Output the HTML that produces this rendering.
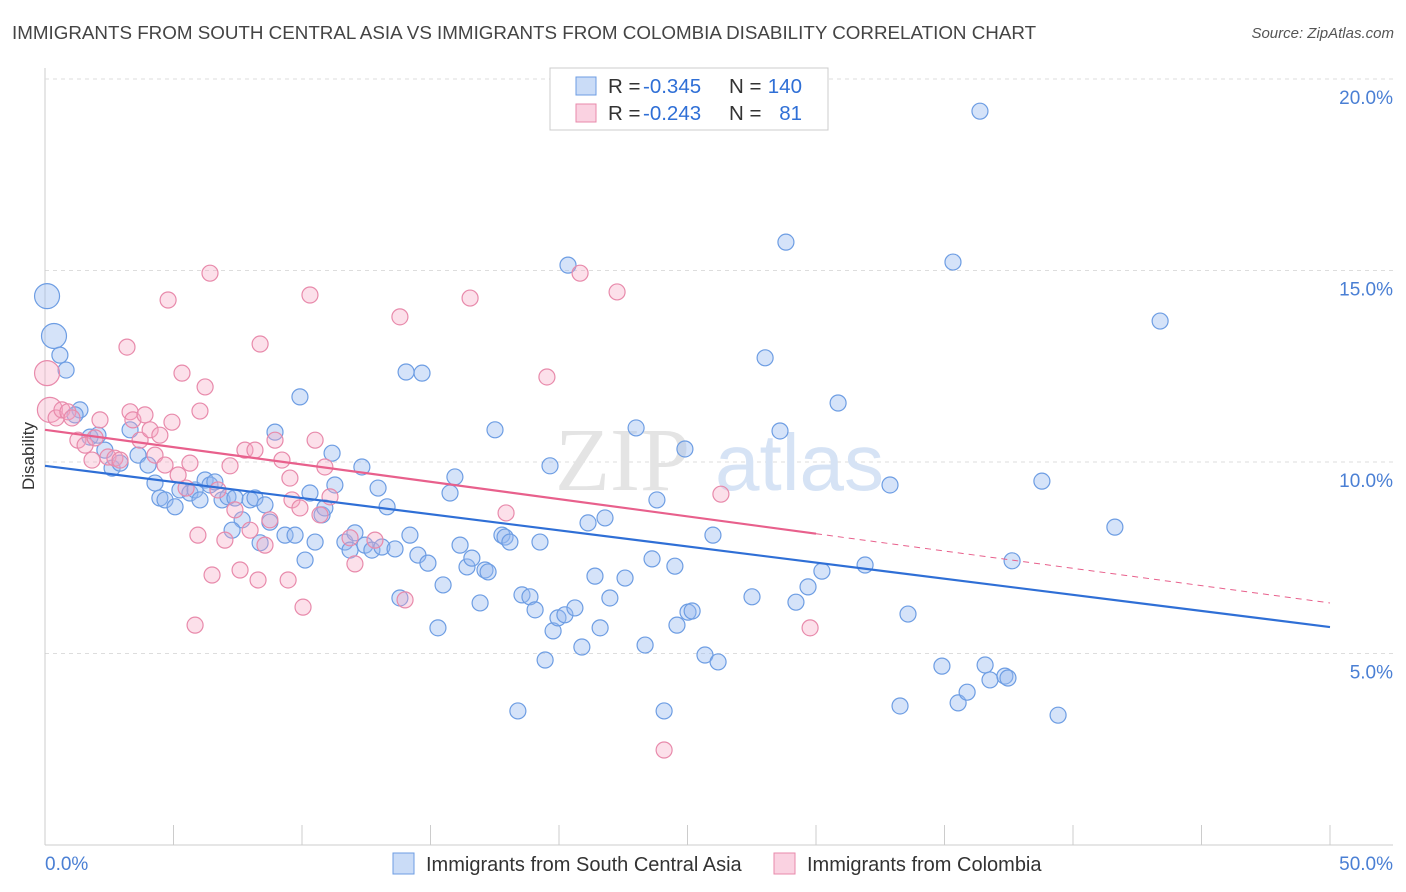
<!DOCTYPE html>
<html><head><meta charset="utf-8"><style>
body{margin:0;background:#fff;font-family:"Liberation Sans",sans-serif;}
#wrap{position:relative;width:1406px;height:892px;overflow:hidden;}
.t{position:absolute;white-space:nowrap;}
</style></head><body>
<div id="wrap">
<div class="t" style="left:12px;top:22px;font-size:18.8px;color:#444;">IMMIGRANTS FROM SOUTH CENTRAL ASIA VS IMMIGRANTS FROM COLOMBIA DISABILITY CORRELATION CHART</div>
<div class="t" style="right:12px;top:25px;font-size:15px;color:#555;font-style:italic;">Source: ZipAtlas.com</div>
<svg id="chart" width="1406" height="892" style="position:absolute;left:0;top:0"></svg>
</div>
<script>
const xTicks=[0,5,10,15,20,25,30,35,40,45,50];
const yTicks=[5,10,15,20];
const blueX=[0.08,0.35,0.58,0.82,1.36,1.17,1.75,2.06,2.33,2.61,2.92,3.31,3.62,4.01,4.28,4.47,4.67,5.06,5.25,5.64,5.84,6.03,6.23,6.42,6.61,6.89,7.12,7.39,7.67,7.28,7.98,8.17,8.56,8.37,8.75,8.95,9.34,9.73,9.92,10.12,10.31,10.51,10.78,10.89,11.17,11.28,11.67,11.87,12.06,12.33,12.45,12.72,12.96,13.11,13.31,13.62,13.81,14.05,14.20,14.51,14.67,14.90,15.29,15.49,15.76,15.95,16.15,16.42,16.61,16.93,17.12,17.24,17.51,17.78,17.90,18.09,18.40,18.56,18.87,19.07,19.26,19.46,19.65,19.77,19.96,20.23,20.35,20.62,20.89,21.13,21.40,21.60,21.79,21.98,22.57,23.00,23.35,23.62,23.81,24.09,24.51,24.59,24.90,25.02,25.18,25.68,25.99,26.19,27.51,28.02,28.60,28.83,29.22,29.69,30.23,30.86,31.91,32.88,33.27,33.58,34.90,35.33,35.53,35.88,36.38,36.58,36.77,37.35,37.47,37.63,38.79,39.42,41.63,43.39];
const blueY=[14.33,13.29,12.79,12.40,11.36,11.23,10.65,10.70,10.31,9.84,9.97,10.84,10.18,9.92,9.45,9.06,9.01,8.83,9.27,9.19,9.27,9.01,9.53,9.40,9.48,9.01,9.09,9.06,8.49,8.22,9.01,9.06,8.88,7.89,8.43,10.78,8.09,8.09,11.70,7.44,9.19,7.91,8.62,8.80,10.23,9.40,7.91,7.70,8.15,9.87,7.83,7.70,9.32,7.78,8.83,7.73,6.45,12.35,8.09,7.57,12.32,7.36,5.67,6.79,9.19,9.61,7.83,7.26,7.49,6.32,7.18,7.13,10.84,8.09,8.04,7.91,3.50,6.53,6.48,6.14,7.91,4.83,9.90,5.59,5.93,6.01,15.14,6.19,5.17,8.41,7.02,5.67,8.54,6.45,6.97,10.89,5.22,7.47,9.01,3.50,7.28,5.74,10.34,6.08,6.11,4.96,8.09,4.78,6.48,12.72,10.81,15.74,6.34,6.74,7.15,11.54,7.31,9.40,3.63,6.03,4.67,15.22,3.71,3.99,19.16,4.70,4.31,4.41,4.36,7.42,9.50,3.39,8.30,13.68];
const pinkX=[0.08,0.19,0.43,0.66,0.89,1.05,1.28,1.56,1.83,1.95,2.14,2.45,2.72,2.92,3.19,3.31,3.42,3.70,3.89,4.09,4.28,4.47,4.67,4.79,4.94,5.18,5.33,5.49,5.64,5.84,5.95,6.03,6.23,6.42,6.50,6.73,7.00,7.20,7.39,7.59,7.78,7.98,8.17,8.29,8.37,8.56,8.75,8.95,9.22,9.46,9.53,9.61,9.92,10.04,10.31,10.51,10.70,10.89,11.09,11.87,12.06,12.84,13.81,14.01,16.54,17.94,19.53,20.82,22.26,24.09,26.30,29.77];
const pinkY=[12.32,11.36,11.15,11.36,11.31,11.15,10.57,10.44,10.05,10.63,11.10,10.13,10.10,10.05,13.00,11.31,11.10,10.57,11.23,10.84,10.18,10.70,9.92,14.23,11.04,9.66,12.32,9.32,9.97,5.74,8.09,11.33,11.96,14.93,7.05,9.27,7.96,9.90,8.75,7.18,10.31,8.22,10.31,6.92,13.08,7.83,8.49,10.57,10.05,6.92,9.58,9.01,8.80,6.21,14.36,10.57,8.62,9.87,9.09,8.02,7.34,7.96,13.79,6.40,14.28,8.67,12.22,14.93,14.44,2.48,9.16,5.67];
const blueTrend=[9.9,5.69];
const pinkTrend=[10.84,6.32];
const pinkSolidEnd=30;

const svg=document.getElementById('chart');
const NS='http://www.w3.org/2000/svg';
const X0=45,X1=1330,Y0=845,PXY=38.3;
const sx=v=>X0+(X1-X0)*v/50;
const sy=v=>Y0-v*PXY;
function mk(tag,attrs,parent){const e=document.createElementNS(NS,tag);for(const k in attrs)e.setAttribute(k,attrs[k]);(parent||svg).appendChild(e);return e;}

yTicks.forEach(v=>{
  const g=mk('line',{x1:X0,x2:1393,y1:sy(v),y2:sy(v),stroke:'#ddd','stroke-dasharray':'4,4'});
  
  
  const t=mk('text',{x:1393,y:sy(v)+25,'text-anchor':'end','font-size':19,fill:'#4a7fd4','font-family':'Liberation Sans'});
  t.textContent=v.toFixed(1)+'%';
  
  
});
const ya=mk('line',{x1:X0,x2:X0,y1:68,y2:Y0,stroke:'#ccc'});


const xa=mk('line',{x1:X0,x2:1393,y1:Y0,y2:Y0,stroke:'#ccc'});


xTicks.forEach(v=>{
  const tk=mk('line',{x1:sx(v),x2:sx(v),y1:825,y2:Y0,stroke:'#ccc'});
  
  
});
[[0,'start',45],[50,'end',1393]].forEach(([v,a,x])=>{
  const t=mk('text',{x:x,y:870,'text-anchor':a,'font-size':19,fill:'#4a7fd4','font-family':'Liberation Sans'});
  t.textContent=v.toFixed(1)+'%';
  
  
});
const yl=mk('text',{x:34,y:456,'text-anchor':'middle','font-size':17,fill:'#333',transform:'rotate(-90 34 456)','font-family':'Liberation Sans'});
yl.textContent='Disability';


const wm=mk('text',{x:555,y:490,'font-size':90,fill:'#e4e4e4','font-family':'Liberation Serif'});
wm.textContent='ZIP';


const wm2=mk('text',{x:715,y:490,'font-size':80,fill:'#d6e3f5','font-family':'Liberation Sans'});
wm2.textContent='atlas';



function pts(xs,ys,fill,stroke,name){
  xs.forEach((x,i)=>{
    const big=(i<2&&x<0.5);
    const c=mk('circle',{cx:sx(x),cy:sy(ys[i]),r:big?12.5:8,fill:fill,stroke:stroke,'stroke-width':1.2});
    
    
  });
}
pts(blueX,blueY,'rgba(150,185,240,0.4)','#6d9de3','blue-point');
pts(pinkX,pinkY,'rgba(245,165,195,0.35)','#e88aab','pink-point');

const bl=mk('line',{x1:sx(0),y1:sy(blueTrend[0]),x2:sx(50),y2:sy(blueTrend[1]),stroke:'#2f6fd6','stroke-width':2.2});


const pAt=v=>pinkTrend[0]+(pinkTrend[1]-pinkTrend[0])*v/50;
const pl=mk('line',{x1:sx(0),y1:sy(pAt(0)),x2:sx(pinkSolidEnd),y2:sy(pAt(pinkSolidEnd)),stroke:'#e8608c','stroke-width':2.2});


const pd=mk('line',{x1:sx(pinkSolidEnd),y1:sy(pAt(pinkSolidEnd)),x2:sx(50),y2:sy(pAt(50)),stroke:'#e8608c','stroke-width':1,'stroke-dasharray':'6,5'});



const topGrid=mk('line',{x1:X0,x2:1393,y1:79,y2:79,stroke:'#ddd','stroke-dasharray':'4,4'});



const lg=mk('rect',{x:550,y:68,width:278,height:62,fill:'#fff',stroke:'#ccc'});


[[77,'rgba(150,185,240,0.5)','#6d9de3','-0.345','140'],[104,'rgba(245,165,195,0.5)','#e88aab','-0.243','81']].forEach((r,i)=>{
  const s=mk('rect',{x:576,y:r[0],width:20,height:18,fill:r[1],stroke:r[2]});
  
  
  const t1=mk('text',{x:608,y:r[0]+16,'font-size':20.5,fill:'#333','font-family':'Liberation Sans'});
  t1.textContent='R = ';
  
  
  const t2=mk('text',{x:643,y:r[0]+16,'font-size':20.5,fill:'#2f6fd6','font-family':'Liberation Sans'});
  t2.textContent=r[3];
  
  
  const t3=mk('text',{x:729,y:r[0]+16,'font-size':20.5,fill:'#333','font-family':'Liberation Sans'});
  t3.textContent='N =';
  
  
  const t4=mk('text',{x:802,y:r[0]+16,'font-size':20.5,fill:'#2f6fd6','text-anchor':'end','font-family':'Liberation Sans'});
  t4.textContent=r[4];
  
  
});
[[393,'rgba(150,185,240,0.5)','#6d9de3','Immigrants from South Central Asia'],[774,'rgba(245,165,195,0.5)','#e88aab','Immigrants from Colombia']].forEach(r=>{
  const s=mk('rect',{x:r[0],y:853,width:21,height:21,fill:r[1],stroke:r[2]});
  
  
  const t=mk('text',{x:r[0]+33,y:871,'font-size':20,fill:'#333','font-family':'Liberation Sans'});
  t.textContent=r[3];
  
  
});
</script>
</body></html>
